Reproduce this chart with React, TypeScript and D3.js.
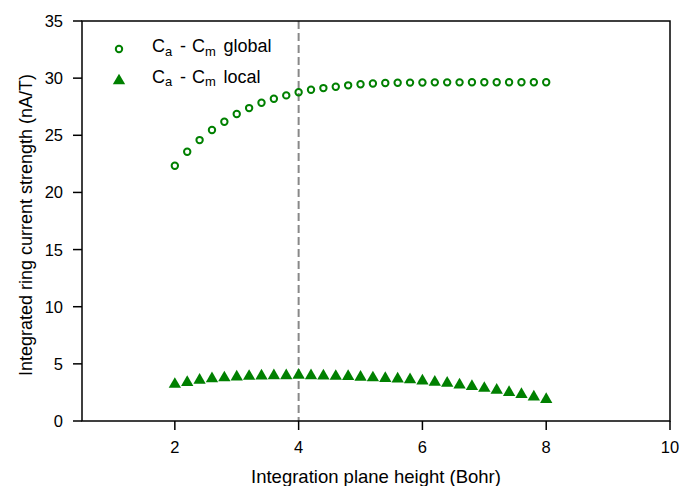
import React from "react";
import * as d3 from "d3";

const heights = [2.0, 2.2, 2.4, 2.6, 2.8, 3.0, 3.2, 3.4, 3.6, 3.8, 4.0, 4.2, 4.4, 4.6, 4.8, 5.0, 5.2, 5.4, 5.6, 5.8, 6.0, 6.2, 6.4, 6.6, 6.8, 7.0, 7.2, 7.4, 7.6, 7.8, 8.0];
const globalValues = [22.34, 23.56, 24.58, 25.46, 26.19, 26.86, 27.38, 27.85, 28.2, 28.49, 28.76, 28.99, 29.13, 29.25, 29.37, 29.47, 29.53, 29.57, 29.6, 29.61, 29.62, 29.63, 29.63, 29.63, 29.64, 29.64, 29.64, 29.64, 29.64, 29.64, 29.64];
const localValues = [3.37, 3.54, 3.73, 3.86, 3.94, 4.02, 4.07, 4.1, 4.13, 4.13, 4.17, 4.13, 4.1, 4.07, 4.05, 4.0, 3.94, 3.89, 3.84, 3.78, 3.67, 3.56, 3.46, 3.31, 3.18, 3.02, 2.86, 2.65, 2.49, 2.27, 2.04];
const xTicks = [2, 4, 6, 8, 10];
const yTicks = [0, 5, 10, 15, 20, 25, 30, 35];
const refLine = 4;

const W = 680, H = 486;
const L = 82, R = 670, T = 21, B = 421;
const FONT = "Liberation Sans, Arial, sans-serif";
const GREEN = "#008000";
const TRI_SIZE = 66;
const TRI_H = Math.sqrt(TRI_SIZE * Math.sqrt(3));
const TRI_OFF = TRI_H / 6;

function LegendLabel({ y, word }: { y: number; word: string }) {
  return (
    <text y={y} fontSize={18}>
      <tspan x={152}>C</tspan>
      <tspan x={165} dy={3.5} fontSize={13}>a</tspan>
      <tspan x={180} dy={-3.5}>-</tspan>
      <tspan x={192}>C</tspan>
      <tspan x={205} dy={3.5} fontSize={13}>m</tspan>
      <tspan x={223.5} dy={-3.5}>{word}</tspan>
    </text>
  );
}

export default function App() {
  const x = d3.scaleLinear().domain([0.5, 10]).range([L, R]);
  const y = d3.scaleLinear().domain([0, 35]).range([B, T]);
  const tri = d3.symbol().type(d3.symbolTriangle).size(TRI_SIZE)() as string;

  return (
    <svg width={W} height={H} style={{ position: "absolute", left: 0, top: 0, background: "#fff" }} fontFamily={FONT}>
      <line x1={x(refLine)} x2={x(refLine)} y1={T} y2={B} stroke="#888" strokeWidth={2} strokeDasharray="8,4" />
      {heights.map((h, i) => (
        <circle key={"g" + i} cx={x(h)} cy={y(globalValues[i])} r={3.2} fill="none" stroke={GREEN} strokeWidth={2} />
      ))}
      {heights.map((h, i) => (
        <path key={"l" + i} d={tri} transform={`translate(${x(h)},${y(localValues[i]) + TRI_OFF})`} fill={GREEN} />
      ))}
      <rect x={L} y={T} width={R - L} height={B - T} fill="none" stroke="#000" strokeWidth={1.5} />
      {xTicks.map((t) => (
        <g key={"xt" + t}>
          <line x1={x(t)} x2={x(t)} y1={B} y2={B + 9} stroke="#000" strokeWidth={1.5} />
          <text x={x(t)} y={B + 32} textAnchor="middle" fontSize={16.5}>{t}</text>
        </g>
      ))}
      {yTicks.map((t) => (
        <g key={"yt" + t}>
          <line x1={L - 9} x2={L} y1={y(t)} y2={y(t)} stroke="#000" strokeWidth={1.5} />
          <text x={L - 19} y={y(t) + 6} textAnchor="end" fontSize={16.5}>{t}</text>
        </g>
      ))}
      <text x={(L + R) / 2} y={482.5} textAnchor="middle" fontSize={18.5}>Integration plane height (Bohr)</text>
      <text transform={`translate(31.5,225) rotate(-90)`} textAnchor="middle" fontSize={18}>Integrated ring current strength (nA/T)</text>
      <circle cx={119} cy={49} r={3.2} fill="none" stroke={GREEN} strokeWidth={2} />
      <LegendLabel y={52} word="global" />
      <path d={tri} transform={`translate(119,${79 + TRI_OFF})`} fill={GREEN} />
      <LegendLabel y={82.5} word="local" />
    </svg>
  );
}
